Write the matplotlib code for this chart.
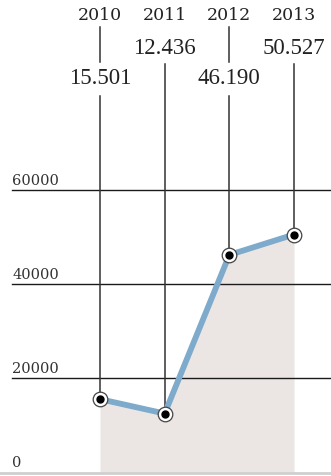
import matplotlib.pyplot as plt
from matplotlib.transforms import blended_transform_factory

years = ["2010", "2011", "2012", "2013"]
values = [15501, 12436, 46190, 50527]
value_labels = ["15.501", "12.436", "46.190", "50.527"]
yticks = [0, 20000, 40000, 60000]

W, H = 331, 476
fig = plt.figure(figsize=(W / 100, H / 100), dpi=100)
ax = fig.add_axes([0, 0, 1, 1])
ax.axis("off")

# pixel layout: first year at 100 px, step ~64.7 px; zero at row 472, 20000 per 94 px
step = 64.67
x0 = 100
ax.set_xlim(-x0 / step, 3 + (W - 294) / step)
per_px = 20000 / 94
ax.set_ylim(-(H - 472) * per_px, 472 * per_px)

def row(r):
    return 1 - r / H

tr = blended_transform_factory(ax.transData, ax.transAxes)
trx = blended_transform_factory(ax.transAxes, ax.transData)
xs = list(range(len(years)))
serif_wide = ["DejaVu Serif"]
serif_narrow = ["Liberation Serif", "DejaVu Serif"]
ink = "#222222"

# shaded area under the series
ax.fill_between(xs, 0, values, color="#ebe6e3", lw=0, zorder=1)

# horizontal grid + tick labels
for t in yticks[1:]:
    ax.plot([12 / W, 1], [t, t], color="#1a1a1a", lw=1.0, transform=trx, zorder=2)
for t in yticks:
    ax.text(12 / W, t + 5 * per_px, str(t), transform=trx, family=serif_wide,
            fontsize=10.5, color="#333333", ha="left", va="baseline", zorder=3)
ax.plot([0, 1], [-1.0 * per_px, -1.0 * per_px], color="#cfcfcf", lw=2,
        transform=trx, zorder=2)

# year headers, value labels and leader lines
for i, (yr, v, lab) in enumerate(zip(years, values, value_labels)):
    ax.text(i, row(15.5), yr, transform=tr, family=serif_wide, fontsize=12.5,
            color=ink, ha="center", va="center")
    if i % 2 == 0:
        ax.text(i, row(79), lab, transform=tr, family=serif_narrow, fontsize=16.5,
                color=ink, ha="center", va="center")
        ax.plot([i, i], [row(27), row(62)], color="#333333", lw=1.1, transform=tr, zorder=2)
        top = (472 - 96) * per_px
    else:
        ax.text(i, row(48.5), lab, transform=tr, family=serif_narrow, fontsize=16.5,
                color=ink, ha="center", va="center")
        top = (472 - 64) * per_px
    ax.plot([i, i], [v, top], color="#333333", lw=1.1, zorder=2)

# the series line and markers
ax.plot(xs, values, color="#7eaacb", lw=4.2, solid_capstyle="round", zorder=4)
ax.plot(xs, values, "o", ms=10.5, mfc="white", mec="#444444", mew=0.9, zorder=5)
ax.plot(xs, values, "o", ms=5, mfc="black", mec="black", zorder=6)

fig.savefig("out.png", dpi=100)
